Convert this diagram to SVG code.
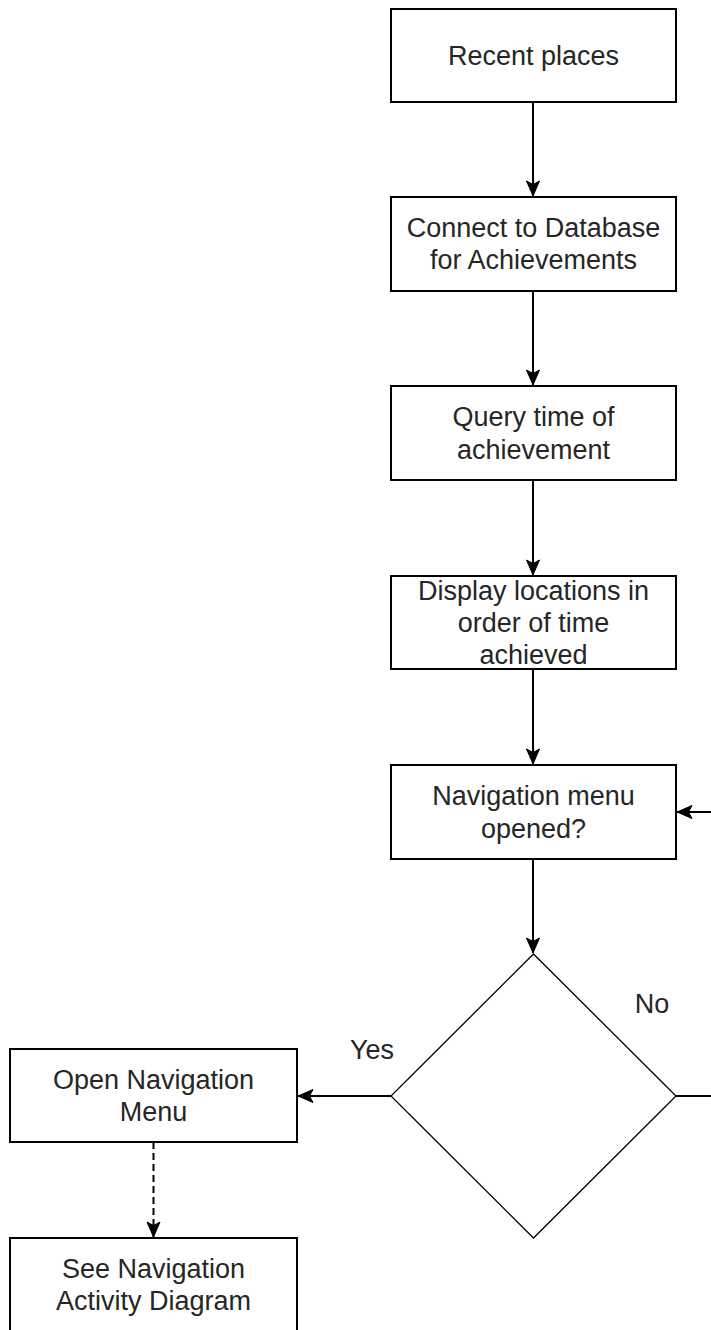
<svg xmlns="http://www.w3.org/2000/svg" width="711" height="1330" viewBox="0 0 711 1330">
<style>
.box{fill:#fff;stroke:#000;stroke-width:2}
.dia{fill:#fff;stroke:#000;stroke-width:1.3}
.t{font-family:"Liberation Sans",Arial,sans-serif;font-size:27px;fill:#262626;text-anchor:middle}
.c{fill:none;stroke:#000;stroke-width:2}
.d{stroke-dasharray:7 4}
</style>
<defs>
<marker id="a" markerUnits="userSpaceOnUse" markerWidth="18" markerHeight="18" viewBox="0 0 18 18" refX="16" refY="9" orient="auto">
<path d="M1,2.5 L16,9 L1,15.5 L4.5,9 z" fill="#000" stroke="#000" stroke-width="1"/>
</marker>
</defs>
<g id="connectors">
<path class="c" d="M533,102 V196" marker-end="url(#a)"/>
<path class="c" d="M533,291 V385" marker-end="url(#a)"/>
<path class="c" d="M533,480 V575" marker-end="url(#a)"/>
<path class="c" d="M533,669 V764" marker-end="url(#a)"/>
<path class="c" d="M533,859 V953" marker-end="url(#a)"/>
<path class="c" d="M391,1096 H298" marker-end="url(#a)"/>
<path class="c" d="M676,1096 H711"/>
<path class="c" d="M711,812 H677" marker-end="url(#a)"/>
<path class="c d" d="M153.5,1142 V1237" marker-end="url(#a)"/>
<text class="t" x="372" y="1059">Yes</text>
<text class="t" x="652" y="1013">No</text>
</g>
<g id="n1"><rect class="box" x="391" y="9" width="285" height="93"/><text class="t" x="533.5" y="65">Recent places</text></g>
<g id="n2"><rect class="box" x="391" y="197" width="285" height="94"/><text class="t" x="533.5" y="237">Connect to Database</text><text class="t" x="533.5" y="269">for Achievements</text></g>
<g id="n3"><rect class="box" x="391" y="386" width="285" height="94"/><text class="t" x="533.5" y="426">Query time of</text><text class="t" x="533.5" y="459">achievement</text></g>
<g id="n4"><rect class="box" x="391" y="576" width="285" height="93"/><text class="t" x="533.5" y="600">Display locations in</text><text class="t" x="533.5" y="632">order of time</text><text class="t" x="533.5" y="664">achieved</text></g>
<g id="n5"><rect class="box" x="391" y="765" width="285" height="94"/><text class="t" x="533.5" y="805">Navigation menu</text><text class="t" x="533.5" y="838">opened?</text></g>
<g id="n6"><polygon class="dia" points="533.5,954 676,1096 533.5,1238 391,1096"/></g>
<g id="n7"><rect class="box" x="10" y="1049" width="287" height="93"/><text class="t" x="153.5" y="1089">Open Navigation</text><text class="t" x="153.5" y="1121">Menu</text></g>
<g id="n8"><rect class="box" x="10" y="1238" width="287" height="100"/><text class="t" x="153.5" y="1278">See Navigation</text><text class="t" x="153.5" y="1310">Activity Diagram</text></g>
</svg>
